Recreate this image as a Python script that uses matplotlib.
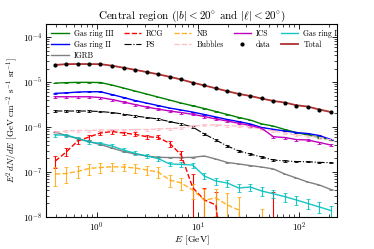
import numpy as np
import matplotlib
matplotlib.use('Agg')
import matplotlib.pyplot as plt

plt.rcParams['font.family'] = 'serif'
plt.rcParams['font.serif'] = ['cmr10']
plt.rcParams['mathtext.fontset'] = 'cm'
plt.rcParams['axes.formatter.use_mathtext'] = True

# energy bins [GeV]
energy = [0.39, 0.50, 0.65, 0.84, 1.09, 1.42, 1.85, 2.40, 3.12, 4.05, 5.27, 6.85,
          8.90, 11.6, 15.1, 19.6, 25.4, 33.0, 42.9, 55.8, 72.5, 94.2, 122., 159., 207.]

data = [2.42e-5, 2.51e-5, 2.51e-5, 2.51e-5, 2.51e-5, 2.30e-5, 2.08e-5, 1.88e-5, 1.67e-5,
        1.48e-5, 1.31e-5, 1.15e-5, 9.65e-6, 8.45e-6, 7.24e-6, 6.21e-6, 5.50e-6, 4.89e-6,
        4.34e-6, 3.78e-6, 3.47e-6, 2.97e-6, 2.83e-6, 2.39e-6, 2.15e-6]
total = [2.40e-5, 2.50e-5, 2.52e-5, 2.51e-5, 2.50e-5, 2.31e-5, 2.08e-5, 1.87e-5, 1.67e-5,
         1.49e-5, 1.31e-5, 1.14e-5, 9.70e-6, 8.40e-6, 7.25e-6, 6.25e-6, 5.45e-6, 4.90e-6,
         4.30e-6, 3.80e-6, 3.50e-6, 3.05e-6, 2.85e-6, 2.45e-6, 2.15e-6]
gas3 = [9.5e-6, 9.7e-6, 9.85e-6, 9.85e-6, 9.75e-6, 8.58e-6, 7.36e-6, 6.31e-6, 5.41e-6,
        4.64e-6, 3.98e-6, 3.41e-6, 2.97e-6, 2.58e-6, 2.21e-6, 1.90e-6, 1.63e-6, 1.43e-6,
        1.17e-6, 1.05e-6, 8.8e-7, 7.55e-7, 6.64e-7, 5.9e-7, 5.14e-7]
gas2 = [5.61e-6, 5.75e-6, 6.0e-6, 6.09e-6, 6.09e-6, 5.27e-6, 4.53e-6, 3.88e-6, 3.41e-6,
        3.0e-6, 2.64e-6, 2.39e-6, 2.15e-6, 1.90e-6, 1.67e-6, 1.47e-6, 1.32e-6, 1.17e-6,
        9.75e-7, 8.9e-7, 8.15e-7, 7.55e-7, 7.17e-7, 6.47e-7, 5.27e-7]
ics = [4.71e-6, 4.71e-6, 4.71e-6, 4.71e-6, 4.53e-6, 4.08e-6, 3.59e-6, 3.16e-6, 2.78e-6,
       2.51e-6, 2.27e-6, 2.10e-6, 1.92e-6, 1.71e-6, 1.51e-6, 1.36e-6, 1.21e-6, 1.08e-6,
       9.35e-7, 6.09e-7, 5.84e-7, 5.27e-7, 5.14e-7, 4.53e-7, 3.98e-7]
ps = [2.27e-6, 2.27e-6, 2.27e-6, 2.27e-6, 2.21e-6, 2.10e-6, 1.94e-6, 1.76e-6, 1.63e-6,
      1.51e-6, 1.32e-6, 1.17e-6, 1.0e-6, 6.99e-7, 5.14e-7, 3.78e-7, 2.93e-7, 2.51e-7,
      2.15e-7, 1.85e-7, 1.76e-7, 1.71e-7, 1.69e-7, 1.64e-7, 1.61e-7]
bubbles = [7.74e-7, 8.15e-7, 8.36e-7, 8.36e-7, 8.58e-7, 8.58e-7, 8.58e-7, 8.8e-7, 8.8e-7,
           9.03e-7, 9.26e-7, 9.5e-7, 1.05e-6, 1.11e-6, 1.11e-6, 1.08e-6, 1.05e-6, 1.0e-6,
           9.0e-7, 8.15e-7, 7.36e-7, 6.64e-7, 6.31e-7, 5.84e-7, 5.14e-7]
igrb = [7.74e-7, 6.47e-7, 5.55e-7, 4.76e-7, 4.08e-7, 3.41e-7, 2.86e-7, 2.51e-7, 2.27e-7,
        2.12e-7, 2.10e-7, 2.10e-7, 2.12e-7, 2.27e-7, 1.94e-7, 1.63e-7, 1.51e-7, 1.39e-7,
        1.29e-7, 1.17e-7, 9.03e-8, 7.36e-8, 6.0e-8, 5.14e-8, 4.08e-8]
gas1 = [6.64e-7, 6.64e-7, 5.61e-7, 4.64e-7, 4.34e-7, 3.78e-7, 3.08e-7, 2.61e-7, 2.27e-7,
        2.0e-7, 1.51e-7, 1.48e-7, 1.43e-7, 8.15e-8, 6.31e-8, 5.7e-8, 4.41e-8, 4.64e-8,
        3.78e-8, 3.29e-8, 2.83e-8, 2.39e-8, 2.0e-8, 1.67e-8, 1.39e-8]
gas1_err = [5e-8, 5e-8, 4.5e-8, 4e-8, 3.5e-8, 3.2e-8, 2.8e-8, 2.6e-8, 2.4e-8,
            2.2e-8, 1.8e-8, 1.8e-8, 1.8e-8, 1.3e-8, 1.1e-8, 1.1e-8, 9e-9, 9e-9,
            8e-9, 7e-9, 6.5e-9, 5.5e-9, 5e-9, 4.5e-9, 4e-9]
rcg = [1.75e-7, 2.78e-7, 4.89e-7, 6.0e-7, 7.36e-7, 7.94e-7, 7.36e-7, 6.89e-7, 6.09e-7,
       5.9e-7, 4.34e-7, 2.39e-7, 4.5e-8, 2.4e-8, 1.85e-8, 1e-10, 1e-10, 1e-10,
       1e-10, 1e-10, 1e-10, 1e-10, 1e-10, 1e-10, 1e-10]
rcg_err = [5.3e-8, 5.6e-8, 7.3e-8, 7.2e-8, 7.4e-8, 7.9e-8, 5.9e-8, 6.9e-8, 6.1e-8,
           5.9e-8, 6.5e-8, 5.5e-8, 4.5e-8, 2.0e-8, 1.7e-8, 0, 0, 0,
           0, 3.6e-8, 0, 0, 0, 0, 0]
nb = [9.03e-8, 9.26e-8, 1.03e-7, 1.20e-7, 1.26e-7, 1.31e-7, 1.29e-7, 1.23e-7, 1.11e-7,
      1.0e-7, 6.64e-8, 5.7e-8, 3.98e-8, 2.39e-8, 2.64e-8, 1.85e-8, 1.43e-8, 1e-10,
      1e-10, 1e-10, 1e-10, 1e-10, 1e-10, 1e-10, 1e-10]
nb_err = [4.1e-8, 3.5e-8, 3.1e-8, 3.4e-8, 2.9e-8, 2.6e-8, 2.2e-8, 2.8e-8, 2.6e-8,
          2.8e-8, 1.9e-8, 1.8e-8, 1.5e-8, 1.7e-8, 1.6e-8, 1.5e-8, 1.3e-8, 0,
          1.5e-8, 0, 0, 0, 0, 0, 0]

E = np.array(energy)

def rel(y, f):
    return np.array(y) * f

fig = plt.figure(figsize=(3.74, 2.49), dpi=100)
ax = fig.add_axes([0.123, 0.1285, 0.778, 0.775])
ax.set_xscale('log')
ax.set_yscale('log')

eb = dict(capsize=1.5, elinewidth=0.8, capthick=0.6)

h_g3 = ax.errorbar(E, gas3, yerr=rel(gas3, 0.02), color='green', lw=1.0, **eb)
h_g2 = ax.errorbar(E, gas2, yerr=rel(gas2, 0.02), color='blue', lw=1.0, **eb)
h_ig = ax.errorbar(E, igrb, yerr=rel(igrb, 0.02), color='grey', lw=1.0, **eb)
h_rcg = ax.errorbar(E, rcg, yerr=rcg_err, color='red', ls='--', lw=1.0, **eb)
h_ps = ax.errorbar(E, ps, yerr=rel(ps, 0.03), color='black', ls='-.', lw=0.8, **eb)
h_nb = ax.errorbar(E, nb, yerr=nb_err, color='orange', ls='--', lw=1.0, alpha=0.85, **eb)
h_bu = ax.errorbar(E, bubbles, yerr=rel(bubbles, 0.05), color='pink', ls='--', lw=1.0, **eb)
h_ics = ax.errorbar(E, ics, yerr=rel(ics, 0.05), color='m', lw=1.0, **eb)
h_g1 = ax.errorbar(E, gas1, yerr=gas1_err, color='c', lw=1.0, alpha=0.9, **eb)
h_tot, = ax.plot(E, total, color='#b03030', lw=1.3)
h_dat = ax.errorbar(E, data, yerr=rel(data, 0.02), fmt='o', color='black', ms=2.0,
                    elinewidth=0.6, capsize=0)

# legend shows plain lines (no error caps)
handles = [h_g3[0], h_g2[0], h_ig[0], h_rcg[0], h_ps[0], h_nb[0], h_bu[0],
           h_ics[0], h_dat[0], h_g1[0], h_tot]
labels = ['Gas ring III', 'Gas ring II', 'IGRB', 'RCG', 'PS', 'NB', 'Bubbles',
          'ICS', 'data', 'Gas ring I', 'Total']
ax.legend(handles, labels, ncol=5, loc='upper left', frameon=False, fontsize=5.6,
          handlelength=2.2, handletextpad=0.7, columnspacing=1.3, labelspacing=0.35,
          borderaxespad=0.3, bbox_to_anchor=(0.0, 1.0))

ax.set_xlim(10**-0.5, 10**2.375)
ax.set_ylim(1e-8, 1.95e-4)
ax.tick_params(which='both', direction='in', top=True, right=True, labelsize=6.5)
ax.tick_params(which='major', length=3.5, width=0.6, pad=2.5)
ax.tick_params(which='minor', length=2, width=0.5)
for s in ax.spines.values():
    s.set_linewidth(0.8)

ax.set_xlabel(r'$E$ [GeV]', fontsize=7, labelpad=0)
ax.set_ylabel(r'$E^2\,dN/dE$ [GeV cm$^{-2}$ s$^{-1}$ sr$^{-1}$]', fontsize=6.5, labelpad=2)
ax.set_title(r'Central region ($|b|<20^{\circ}$ and $|\ell|<20^{\circ}$)', fontsize=8, pad=3)

fig.savefig('out.png', dpi=100)
